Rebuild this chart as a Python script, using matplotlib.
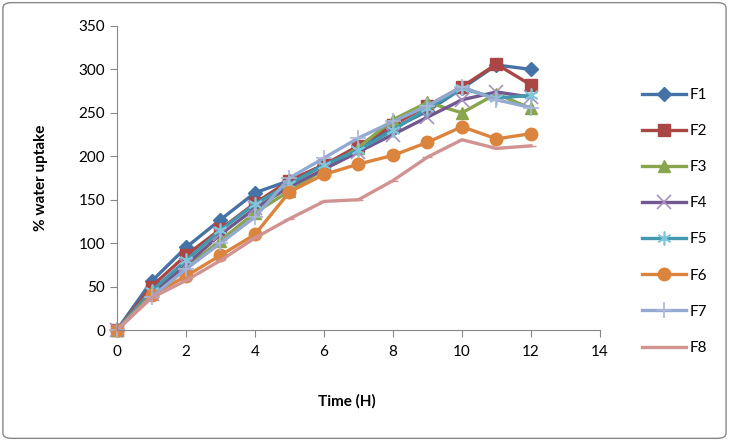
import matplotlib
matplotlib.use('Agg')
import matplotlib.pyplot as plt
from matplotlib.patches import FancyBboxPatch

# data
time_h = [0, 1, 2, 3, 4, 5, 6, 7, 8, 9, 10, 11, 12]
f1 = [0, 56, 95, 127, 158, 172, 190, 210, 232, 252, 278, 305, 300]
f2 = [0, 50, 86, 116, 146, 172, 190, 212, 236, 258, 280, 306, 282]
f3 = [0, 45, 72, 103, 135, 160, 185, 210, 242, 262, 250, 272, 255]
f4 = [0, 42, 75, 110, 140, 165, 185, 205, 225, 245, 265, 274, 268]
f5 = [0, 45, 80, 115, 145, 168, 190, 207, 230, 255, 278, 267, 270]
f6 = [0, 40, 62, 86, 110, 159, 179, 191, 201, 216, 234, 220, 226]
f7 = [0, 38, 70, 100, 130, 175, 198, 221, 240, 258, 280, 265, 256]
f8 = [0, 37, 57, 80, 106, 128, 148, 150, 172, 199, 219, 209, 212]

series = [f1, f2, f3, f4, f5, f6, f7, f8]
labels = ['F1', 'F2', 'F3', 'F4', 'F5', 'F6', 'F7', 'F8']
colors = ['#4572A7', '#AA4643', '#89A54E', '#71588F',
          '#4198AF', '#DB843D', '#93A9CF', '#D19392']
# marker, size, edge colour (None = line colour)
markers = ['D', 's', '^', 'x', (6, 2, 0), 'o', '+', '_']
msizes = [7, 9, 8, 10, 10, 9, 12, 7]
medges = [None, None, None, '#A890C0', '#7FC6DA', None, '#A9B8DA', None]

plt.rcParams['font.family'] = ['Lato', 'DejaVu Sans']

fig = plt.figure(figsize=(7.29, 4.41), dpi=100)
ax = fig.add_axes([0.1605, 0.2517, 0.6625, 0.6895])

for ys, lab, c, m, ms, me in zip(series, labels, colors, markers, msizes, medges):
    ax.plot(time_h, ys, color=c, lw=2.4, marker=m, ms=ms,
            mec=me if me else c, mew=1.2 if me else 1.0,
            label=lab, clip_on=False)

ax.set_xlim(0, 14)
ax.set_ylim(0, 350)
ax.set_xticks(range(0, 15, 2))
ax.set_yticks(range(0, 351, 50))
for s in ['top', 'right']:
    ax.spines[s].set_visible(False)
for s in ['left', 'bottom']:
    ax.spines[s].set_color('#888888')
ax.tick_params(axis='both', colors='#888888', labelcolor='black',
               labelsize=11, length=5, direction='out')
ax.tick_params(axis='x', pad=6)

ax.set_ylabel('% water uptake', fontsize=11, fontweight='bold', labelpad=22)
ax.set_xlabel('Time (H)', fontsize=11, fontweight='bold')
ax.xaxis.set_label_coords(0.475, -0.21)

ax.legend(loc='center left', bbox_to_anchor=(0.872, 0.498),
          bbox_transform=fig.transFigure, frameon=False, fontsize=11,
          labelspacing=1.45, handlelength=2.9, handletextpad=0.2,
          borderaxespad=0)

border = FancyBboxPatch((0.004, 0.006), 0.992, 0.988,
                        boxstyle='round,pad=0,rounding_size=0.012',
                        transform=fig.transFigure, fill=False,
                        edgecolor='#888888', lw=1.0)
fig.patches.append(border)

fig.savefig('out.png', dpi=100)
